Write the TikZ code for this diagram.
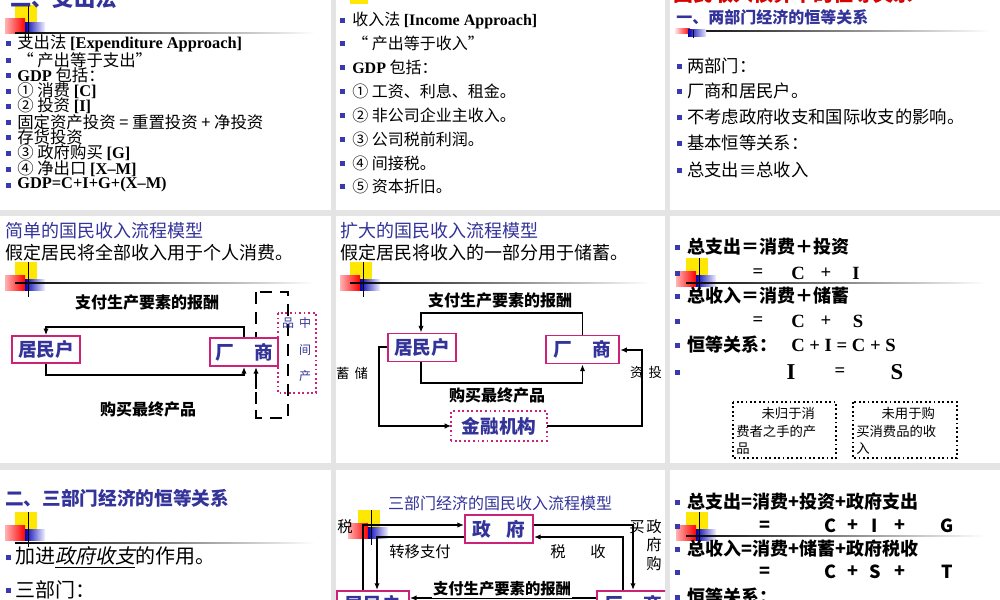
\documentclass[tikz,border=0pt]{standalone}
\usepackage{fontspec}
\setmainfont{Noto Sans CJK SC}[ItalicFont={Noto Sans CJK SC},ItalicFeatures={FakeSlant=0.2}]
\newfontfamily\tmf{Liberation Serif}
\newcommand\tm[1]{{\tmf\bfseries #1}}
\usetikzlibrary{arrows.meta}
\definecolor{bg}{HTML}{E4E4E4}
\definecolor{mag}{HTML}{CC2277}
\definecolor{tblue}{HTML}{33339A}
\definecolor{bulc}{HTML}{3A3AB0}
\tikzset{
 txt/.style={anchor=west,inner sep=0pt},
 ctr/.style={inner sep=0pt},
 fbox/.style={draw=mag,line width=1.4pt,fill=white,text=tblue,font=\fontsize{14pt}{16pt}\selectfont\bfseries,inner sep=0pt},
 arr/.style={-{Latex[length=5pt,width=4pt]},line width=1.3pt},
 pics/logo/.style={code={
   \fill[yellow!90!orange] (10,0) rectangle (32,18);
   \shade[left color=red!30,right color=red] (0,13) rectangle (20,28);
   \shade[left color=blue!70!black,right color=blue!5] (20,17) rectangle (40,28);
   \draw[line width=0.6pt] (23,0) -- (23,35);
 }},
}
\newcommand\fadeline[3]{\shade[left color=black,right color=white] (#1,#3) rectangle (#2,#3+1.3);}
\newcommand\bul[2]{\fill[bulc] (#1-2,#2-2) rectangle (#1+2.5,#2+2.5);}
\begin{document}
\begin{tikzpicture}[x=0.75pt,y=-0.75pt]
\useasboundingbox (0,0) rectangle (1000,600);
\fill[bg] (0,0) rectangle (1000,600);
% panels
\foreach \a/\b/\c/\d in {0/331/0/210,336/665/0/210,670/1000/0/210,0/331/216/463,336/665/216/463,670/1000/216/463,0/331/470/600,336/665/470/600,670/1000/470/600}
  \fill[white] (\a,\c) rectangle (\b,\d);

% ---------------- P1
\begin{scope}
\clip (0,0) rectangle (331,210);
\pic (lg1) at (5,5) {logo};
\fadeline{15}{315}{32}
\node[txt,text=tblue,font=\fontsize{16pt}{18pt}\selectfont\bfseries] (t1) at (10,-2) {二、支出法};
\foreach \y in {43,60,75,91,106,122,137,153,169,185} {\bul{8}{\y}}
\begin{scope}[every node/.style={txt,font=\fontsize{12.3pt}{13pt}\selectfont}]
\node (p1a) at (17,43) {支出法 \tm{[Expenditure Approach]}};
\node (p1b) at (17,60) {“ 产出等于支出”};
\node (p1c) at (17,75) {\tm{GDP} 包括：};
\node (p1d) at (17,91) {① 消费 \tm{[C]}};
\node (p1e) at (17,106) {② 投资 \tm{[I]}};
\node (p1f) at (17,122) {固定资产投资 = 重置投资 + 净投资};
\node (p1g) at (17,137) {存货投资};
\node (p1h) at (17,153) {③ 政府购买 \tm{[G]}};
\node (p1i) at (17,169) {④ 净出口 \tm{[X–M]}};
\node (p1j) at (17,185) {\tm{GDP=C+I+G+(X–M)}};
\end{scope}
\end{scope}

% ---------------- P2
\begin{scope}
\clip (336,0) rectangle (665,210);
\fill[yellow!90!orange] (350,-10) rectangle (368,4);
\node[txt,text=tblue,font=\fontsize{15pt}{17pt}\selectfont\bfseries] (t2) at (378,-9) {一、收入法};
\foreach \y in {20,43,67,91,115,139,163,186} {\bul{342}{\y}}
\begin{scope}[every node/.style={txt,font=\fontsize{12pt}{13pt}\selectfont}]
\node (p2a) at (352,20) {收入法 \tm{[Income Approach]}};
\node (p2b) at (352,43) {“ 产出等于收入”};
\node (p2c) at (352,67) {\tm{GDP} 包括：};
\node (p2d) at (352,91) {① 工资、利息、租金。};
\node (p2e) at (352,115) {② 非公司企业主收入。};
\node (p2f) at (352,139) {③ 公司税前利润。};
\node (p2g) at (352,163) {④ 间接税。};
\node (p2h) at (352,186) {⑤ 资本折旧。};
\end{scope}
\end{scope}

% ---------------- P3
\begin{scope}
\clip (670,0) rectangle (1000,210);
\node[txt,text=red!85!black,font=\fontsize{15pt}{17pt}\selectfont\bfseries] (t3a) at (673,-6) {国民收入核算中的恒等关系};
\node[txt,text=tblue,font=\fontsize{12pt}{14pt}\selectfont\bfseries] (t3b) at (676,17) {一、两部门经济的恒等关系};
\fadeline{680}{990}{30}
\shade[left color=red!10,right color=red] (675,28) rectangle (690,33);
\shade[left color=blue!70!black,right color=blue!10] (688,29) rectangle (706,36);
\draw[line width=0.6pt] (693,30) -- (693,38);
\foreach \y in {66,91,117,143,170} {\bul{679}{\y}}
\begin{scope}[every node/.style={txt,font=\fontsize{13pt}{14pt}\selectfont}]
\node (p3a) at (687,66) {两部门：};
\node (p3b) at (687,91) {厂商和居民户。};
\node (p3c) at (687,117) {不考虑政府收支和国际收支的影响。};
\node (p3d) at (687,143) {基本恒等关系：};
\node (p3e) at (687,170) {总支出≡总收入};
\end{scope}
\end{scope}

% ---------------- P4
\begin{scope}
\clip (0,216) rectangle (331,463);
\node[txt,text=tblue,font=\fontsize{13.5pt}{15pt}\selectfont] (t4a) at (5,231) {简单的国民收入流程模型};
\node[txt,font=\fontsize{13.5pt}{15pt}\selectfont] (t4b) at (5,253) {假定居民将全部收入用于个人消费。};
\pic (lg4) at (5,262) {logo};
\fadeline{15}{315}{282}
\draw[dashed,line width=1.6pt,dash pattern=on 9pt off 6pt] (256,292) rectangle (288,418);
\draw[dashed,line width=1.4pt,dash pattern=on 6pt off 5pt,-{Latex[length=5pt,width=4pt]}] (256,418) -- (256,367);
\node[fbox,minimum width=51pt,minimum height=20pt] (j4) at (46,349.5) {居民户};
\node[fbox,minimum width=51pt,minimum height=21pt] (c4) at (244,352) {厂\hspace{1.1em}商};
\coordinate (u4) at (46,327);
\coordinate (d4) at (46,375);
\draw[arr] (c4.north) |- (u4) -- (j4.north);
\draw[arr] (j4.south) |- (c4.south|-d4) -- (c4.south);
\node[ctr,font=\fontsize{12pt}{13pt}\selectfont\bfseries] (l4a) at (147,302) {支付生产要素的报酬};
\node[ctr,font=\fontsize{12pt}{13pt}\selectfont\bfseries] (l4b) at (148,409) {购买最终产品};
\draw[mag,line width=1.4pt,dotted] (278,313) rectangle (316,393);
\begin{scope}[every node/.style={ctr,text=tblue,font=\fontsize{9pt}{10pt}\selectfont}]
\node (m4a) at (288,323) {品};
\node (m4b) at (305,323) {中};
\node (m4c) at (305,350) {间};
\node (m4d) at (305,376) {产};
\end{scope}
\end{scope}

% ---------------- P5
\begin{scope}
\clip (336,216) rectangle (665,463);
\node[txt,text=tblue,font=\fontsize{13.5pt}{15pt}\selectfont] (t5a) at (340,231) {扩大的国民收入流程模型};
\node[txt,font=\fontsize{13.5pt}{15pt}\selectfont] (t5b) at (340,253) {假定居民将收入的一部分用于储蓄。};
\pic (lg5) at (340,262) {logo};
\fadeline{350}{650}{282}
\node[fbox,minimum width=51pt,minimum height=21pt] (j5) at (422,347.5) {居民户};
\node[fbox,minimum width=55pt,minimum height=21pt] (c5) at (582.5,349.5) {厂\hspace{1.1em}商};
\node[fbox,draw=none,minimum width=70pt,minimum height=21pt] (f5) at (499,426) {金融机构};
\draw[mag,line width=1.4pt,dotted] (f5.south west) rectangle (f5.north east);
\coordinate (u5) at (421,313);
\coordinate (d5) at (421,383);
\coordinate (s5) at (379,347);
\coordinate (v5) at (642,350);
\draw[arr] (c5.north) |- (u5) -- (u5|-j5.north);
\draw[arr] (j5.south-|d5) -- (d5) -| (c5.south);
\draw[arr] (j5.west|-s5) -- (s5) |- (f5.west);
\draw[arr] (f5.east) -| (v5) -- (c5.east|-v5);
\node[ctr,font=\fontsize{12pt}{13pt}\selectfont\bfseries] (l5a) at (500,300) {支付生产要素的报酬};
\node[ctr,font=\fontsize{12pt}{13pt}\selectfont\bfseries] (l5b) at (497,395) {购买最终产品};
\node[ctr,font=\fontsize{10pt}{11pt}\selectfont] (l5c) at (352,373) {蓄\hspace{0.4em}储};
\node[ctr,font=\fontsize{10pt}{11pt}\selectfont] (l5d) at (646,372) {资\hspace{0.4em}投};
\end{scope}

% ---------------- P6
\begin{scope}
\clip (670,216) rectangle (1000,463);
\pic (lg6) at (676,258) {logo};
\fadeline{686}{985}{282}
\foreach \y in {247,273,296,321,345,372} {\bul{677}{\y}}
\begin{scope}[every node/.style={txt,font=\fontsize{13.5pt}{15pt}\selectfont\bfseries}]
\node (p6a) at (687,247) {总支出＝消费＋投资};
\node (p6b) at (687,296) {总收入＝消费＋储蓄};
\node (p6c) at (687,345) {恒等关系：};
\end{scope}
\begin{scope}[every node/.style={ctr,font=\fontsize{14pt}{15pt}\selectfont\bfseries\tmf}]
\node (e6a) at (758,273) {=};
\node (e6b) at (798,273) {C};
\node (e6c) at (826,273) {+};
\node (e6d) at (856,273) {I};
\node (e6e) at (758,321) {=};
\node (e6f) at (798,321) {C};
\node (e6g) at (826,321) {+};
\node (e6h) at (858,321) {S};
\node[txt] (e6i) at (791,345) {C + I = C + S};
\node[font=\fontsize{17pt}{18pt}\selectfont\bfseries\tmf] (e6j) at (791,372) {I};
\node (e6k) at (840,372) {=};
\node[font=\fontsize{17pt}{18pt}\selectfont\bfseries\tmf] (e6l) at (897,372) {S};
\end{scope}
\draw[line width=1.3pt,dotted] (733,402) rectangle (836,458);
\draw[line width=1.3pt,dotted] (853,402) rectangle (957,458);
\begin{scope}[every node/.style={txt,font=\fontsize{10pt}{11pt}\selectfont}]
\node (b6a) at (736,413) {\hspace{1.9em}未归于消};
\node (b6b) at (736,431) {费者之手的产};
\node (b6c) at (736,449) {品};
\node (b6d) at (856,413) {\hspace{1.9em}未用于购};
\node (b6e) at (856,431) {买消费品的收};
\node (b6f) at (856,449) {入};
\end{scope}
\end{scope}

% ---------------- P7
\begin{scope}
\clip (0,470) rectangle (331,600);
\node[txt,text=tblue,font=\fontsize{14pt}{15pt}\selectfont\bfseries] (t7) at (5,498) {二、三部门经济的恒等关系};
\pic (lg7) at (5,512) {logo};
\fadeline{15}{315}{542}
\bul{8}{557}\bul{8}{590}
\node[txt,font=\fontsize{15pt}{16pt}\selectfont] (p7a) at (15,557) {加进\underline{\itshape 政府收支}的作用。};
\node[txt,font=\fontsize{15pt}{16pt}\selectfont] (p7b) at (15,590) {三部门：};
\end{scope}

% ---------------- P8
\begin{scope}
\clip (336,470) rectangle (665,600);
\node[ctr,text=tblue,font=\fontsize{12pt}{13pt}\selectfont] (t8) at (500,503) {三部门经济的国民收入流程模型};
\pic (lg8) at (348,510) {logo};
\node[fbox,minimum width=51pt,minimum height=21pt] (g8) at (499,529) {政\hspace{0.8em}府};
\node[fbox,minimum width=54pt,minimum height=20pt,anchor=north west] (j8) at (336,590) {居民户};
\node[fbox,minimum width=54pt,minimum height=20pt,anchor=north west] (c8) at (596,590) {厂\hspace{1.1em}商};
\coordinate (a8) at (363,525);
\coordinate (b8) at (377,537);
\coordinate (r8) at (633,525);
\coordinate (q8) at (623,537);
\draw[arr] (a8|-j8.north) -- (a8) -- (g8.west|-a8);
\draw[arr] (g8.west|-b8) -- (b8) -- (b8|-j8.north);
\draw[arr] (g8.east|-r8) -- (r8) -- (r8|-c8.north);
\draw[arr] (q8|-c8.north) -- (q8) -- (g8.east|-q8);
\coordinate (h8) at (500,598);
\draw[arr] (c8.west|-h8) -- (j8.east|-h8);
\node[ctr,font=\fontsize{11.5pt}{12pt}\selectfont] (l8a) at (420,552) {转移支付};
\node[ctr,font=\fontsize{11.5pt}{12pt}\selectfont] (l8b) at (578,552) {税\hspace{1.6em}收};
\node[ctr,font=\fontsize{11.5pt}{12pt}\selectfont] (l8c) at (345,527) {税};
\node[ctr,font=\fontsize{11.5pt}{12pt}\selectfont] (l8d) at (637,527) {买};
\node[ctr,font=\fontsize{11.5pt}{12pt}\selectfont] (l8e) at (654,527) {政};
\node[ctr,font=\fontsize{11.5pt}{12pt}\selectfont] (l8f) at (654,545) {府};
\node[ctr,font=\fontsize{11.5pt}{12pt}\selectfont] (l8g) at (654,564) {购};
\node[ctr,font=\fontsize{11.5pt}{12pt}\selectfont\bfseries,fill=white,inner sep=1pt] (l8h) at (502,589) {支付生产要素的报酬};
\end{scope}

% ---------------- P9
\begin{scope}
\clip (670,470) rectangle (1000,600);
\pic (lg9) at (676,512) {logo};
\fadeline{686}{985}{535}
\foreach \y in {502,526,549,572,597} {\bul{677}{\y}}
\begin{scope}[every node/.style={txt,font=\fontsize{13.5pt}{15pt}\selectfont\bfseries}]
\node (p9a) at (687,502) {总支出=消费+投资+政府支出};
\node (p9b) at (687,549) {总收入=消费+储蓄+政府税收};
\node (p9c) at (687,597) {恒等关系：};
\end{scope}
\begin{scope}[every node/.style={ctr,font=\fontsize{13.5pt}{15pt}\selectfont\bfseries}]
\node (q9a) at (765,526) {=};
\node (q9b) at (830,526) {C};
\node (q9c) at (853,526) {+};
\node (q9d) at (875,526) {I};
\node (q9e) at (900,526) {+};
\node (q9f) at (947,526) {G};
\node (q9g) at (765,572) {=};
\node (q9h) at (830,572) {C};
\node (q9i) at (853,572) {+};
\node (q9j) at (875,572) {S};
\node (q9k) at (900,572) {+};
\node (q9l) at (947,572) {T};
\end{scope}
\end{scope}
\end{tikzpicture}
\end{document}
